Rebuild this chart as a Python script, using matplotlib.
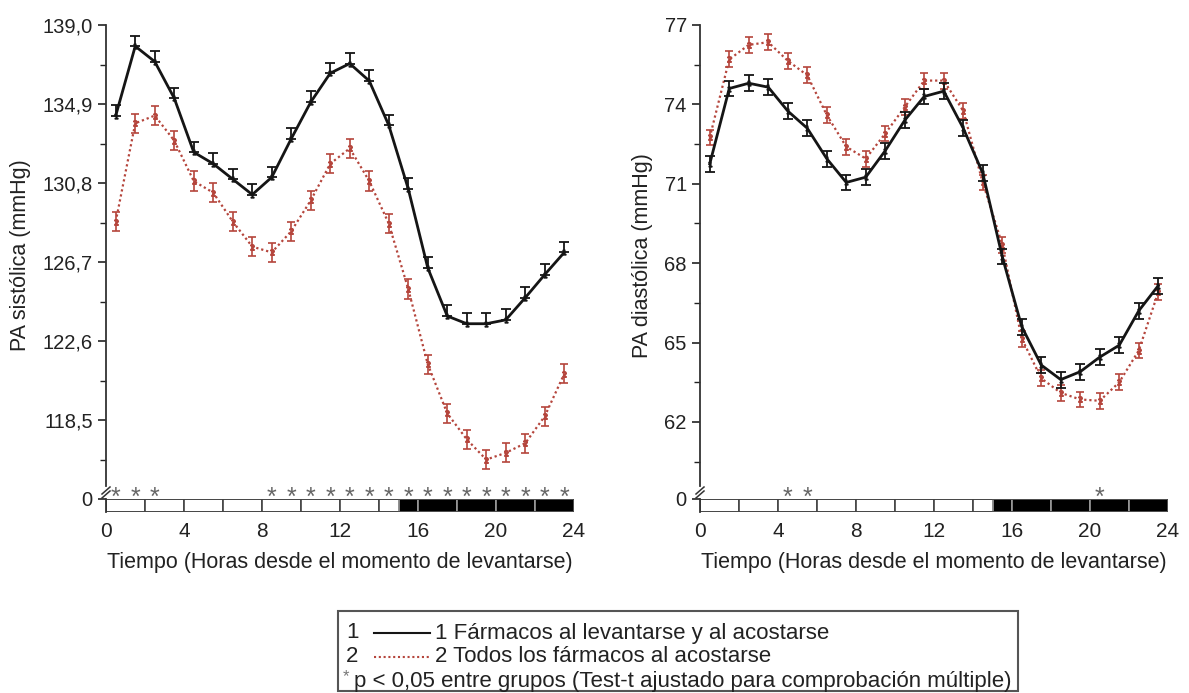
import numpy as np
import matplotlib.pyplot as plt
from matplotlib.lines import Line2D
from matplotlib.patches import Rectangle

plt.rcParams['font.family'] = ['Liberation Sans', 'DejaVu Sans']

# hourly means (hours since waking)
hours = np.arange(24) + 0.5

sys_1 = [134.3, 137.9, 137.1, 135.2, 132.4, 131.8, 131.0, 130.2, 131.1, 133.1, 135.0, 136.5,
         137.0, 136.1, 133.8, 130.5, 126.4, 123.9, 123.5, 123.5, 123.7, 124.85, 126.05, 127.2]
sys_2 = [128.8, 133.9, 134.3, 133.0, 130.9, 130.3, 128.8, 127.5, 127.2, 128.3, 129.9, 131.8,
         132.6, 130.9, 128.7, 125.3, 121.4, 118.85, 117.5, 116.45, 116.8, 117.3, 118.7, 120.9]
dia_1 = [71.75, 74.6, 74.8, 74.65, 73.75, 73.1, 71.95, 71.05, 71.25, 72.25, 73.4, 74.3,
         74.5, 73.1, 71.4, 68.25, 65.6, 64.15, 63.6, 63.9, 64.45, 64.9, 66.2, 67.15]
dia_2 = [72.75, 75.7, 76.25, 76.35, 75.65, 75.1, 73.6, 72.4, 71.95, 72.9, 73.9, 74.9,
         74.9, 73.75, 71.05, 68.7, 65.15, 63.65, 63.1, 62.85, 62.8, 63.5, 64.7, 66.9]

sys_err_1 = 0.55
sys_err_2 = 0.5
dia_err_1 = 0.3
dia_err_2 = 0.3

sig_sys = [0.5, 1.5, 2.5, 8.5, 9.5, 10.5, 11.5, 12.5, 13.5, 14.5, 15.5, 16.5,
           17.5, 18.5, 19.5, 20.5, 21.5, 22.5, 23.5]
sig_dia = [4.5, 5.5, 20.5]

sys_ticks = [118.5, 122.6, 126.7, 130.8, 134.9, 139.0]
sys_labels = ['118,5', '122,6', '126,7', '130,8', '134,9', '139,0']
dia_ticks = [62, 65, 68, 71, 74, 77]
dia_labels = ['62', '65', '68', '71', '74', '77']

light_start = [0, 2, 4, 6, 8, 10, 12, 14]
light_width = [2, 2, 2, 2, 2, 2, 2, 1]
dark_start = [15, 16, 18, 20, 22]
dark_width = [1, 2, 2, 2, 2]
x_ticks = [0, 4, 8, 12, 16, 20, 24]

RED = '#b5453c'
BLACK = '#151515'
TXT = '#222222'
W, H = 1189, 693

fig = plt.figure(figsize=(W / 100, H / 100), dpi=100)


def px_axes(x0, x1, y0, y1):
    return fig.add_axes([x0 / W, 1 - y1 / H, (x1 - x0) / W, (y1 - y0) / H])


panels = [
    dict(x0=106, x1=574, m1=sys_1, m2=sys_2, e1=[[0] * 24, [sys_err_1] * 24], e2=sys_err_2,
         ylim=(115.08, 139.0), ticks=sys_ticks, labels=sys_labels,
         ylabel='PA sistólica (mmHg)', sig=sig_sys),
    dict(x0=700, x1=1168, m1=dia_1, m2=dia_2, e1=dia_err_1, e2=dia_err_2,
         ylim=(59.58, 77.0), ticks=dia_ticks, labels=dia_labels,
         ylabel='PA diastólica (mmHg)', sig=sig_dia),
]

for p in panels:
    ax = px_axes(p['x0'], p['x1'], 25, 486)
    ax.errorbar(hours, p['m2'], yerr=p['e2'], color=RED, ls=(0, (1, 1.3)), lw=1.6,
                elinewidth=1.2, capsize=3, capthick=1.2, marker='$2$', ms=4, zorder=2)
    ax.errorbar(hours, p['m1'], yerr=p['e1'], color=BLACK, ls='-', lw=2,
                elinewidth=1.3, capsize=3.5, capthick=1.3, marker='$1$', ms=3.5, zorder=3)
    ax.set_xlim(0, 24)
    ax.set_ylim(*p['ylim'])
    ax.set_xticks([])
    for s in ['top', 'right', 'bottom']:
        ax.spines[s].set_visible(False)
    ax.spines['left'].set_linewidth(1.3)
    ax.spines['left'].set_color('#333333')
    t = p['ticks']
    step = t[1] - t[0]
    ax.set_yticks(t, p['labels'])
    ax.set_yticks([v + step / 2 for v in t[:-1]] + [t[0] - step / 2], minor=True)
    ax.tick_params(axis='y', which='major', length=6, width=1.2, labelsize=14.5, colors=TXT)
    ax.tick_params(axis='y', which='minor', length=4, width=1.0, color=TXT)
    ax.set_ylabel(p['ylabel'], fontsize=15.5, color=TXT, labelpad=8)

    axb = px_axes(p['x0'], p['x1'], 499, 512)
    axb.bar(light_start, 1, width=light_width, align='edge', color='white',
            edgecolor='#444444', lw=1.2)
    axb.bar(dark_start, 1, width=dark_width, align='edge', color='black',
            edgecolor='#9a9a9a', lw=1.2)
    axb.add_patch(Rectangle((0, 0), 24, 1, fill=False, ec='#444444', lw=1.2))
    axb.set_xlim(0, 24)
    axb.set_ylim(0, 1)
    for s in ['top', 'right', 'bottom']:
        axb.spines[s].set_visible(False)
    axb.spines['left'].set_linewidth(1.3)
    axb.spines['left'].set_color('#333333')
    axb.set_yticks([1], ['0'])
    axb.tick_params(axis='y', length=6, width=1.2, labelsize=14.5, colors=TXT)
    axb.set_xticks(x_ticks)
    axb.tick_params(axis='x', length=0, pad=7, labelsize=15, colors=TXT)
    axb.set_xlabel('Tiempo (Horas desde el momento de levantarse)', fontsize=15.5,
                   color=TXT, labelpad=8)
    for h in p['sig']:
        axb.text(h, 1.1, '*', ha='center', va='center', color='#666666', fontsize=18)

    # axis break marks
    x0 = p['x0']
    for dy in (0, 4):
        fig.add_artist(Line2D([(x0 - 4) / W, (x0 + 4) / W],
                              [1 - (494 + dy) / H, 1 - (487 + dy) / H],
                              color='#333333', lw=1.1))

# legend box
fig.add_artist(Rectangle((338 / W, 1 - 691 / H), 680 / W, 80 / H, transform=fig.transFigure,
                         fill=False, ec='#555555', lw=1.5))
rows = [(633, '1', BLACK, '-', '1 Fármacos al levantarse y al acostarse'),
        (657, '2', RED, (0, (1, 1.3)), '2 Todos los fármacos al acostarse')]
for y, num, col, ls, label in rows:
    fig.text(352 / W, 1 - y / H, num, ha='center', va='center', fontsize=16, color=TXT)
    fig.add_artist(Line2D([374 / W, 430 / W], [1 - y / H] * 2, color=col, ls=ls, lw=1.5))
    fig.text(435 / W, 1 - y / H, label, va='center', fontsize=16, color=TXT)
fig.text(346 / W, 1 - 677 / H, '*', ha='center', va='center', fontsize=12, color='#777777')
fig.text(354 / W, 1 - 681 / H, 'p < 0,05 entre grupos (Test-t ajustado para comprobación múltiple)',
         va='center', fontsize=16, color=TXT)

fig.savefig('out.png', dpi=100)
